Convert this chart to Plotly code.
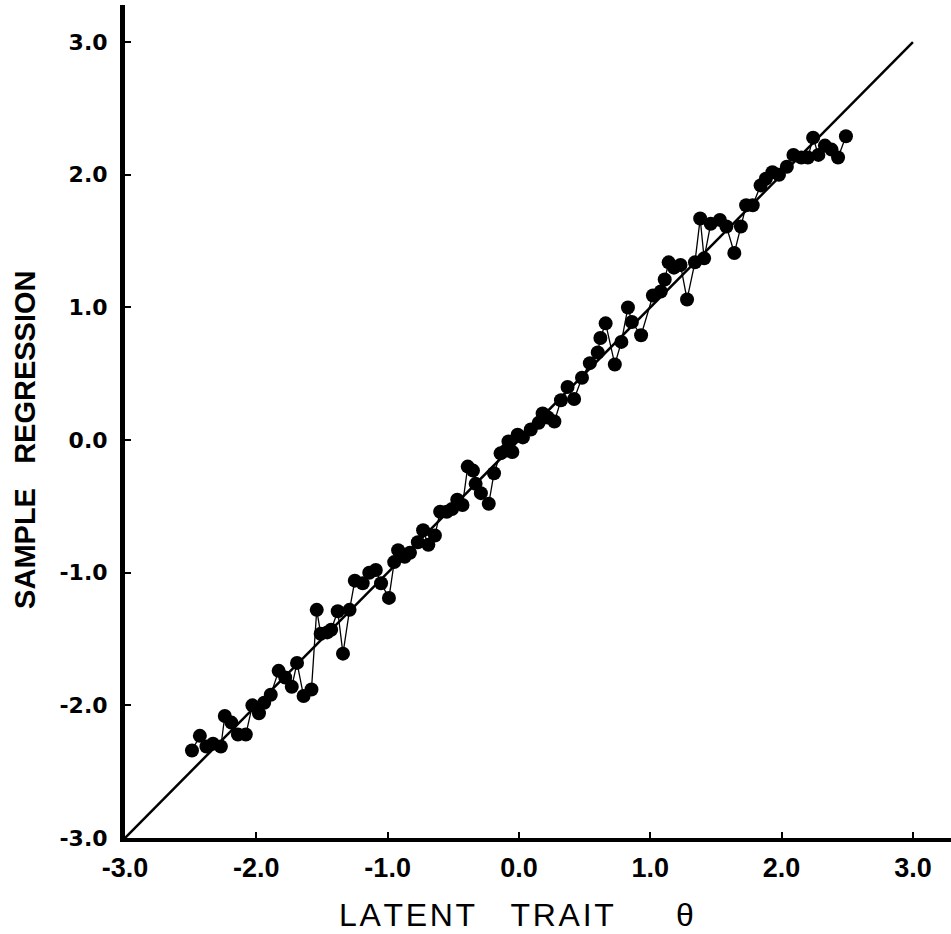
import plotly.graph_objects as go

# sample regression points
theta = [-2.49, -2.43, -2.38, -2.33, -2.27, -2.24, -2.19, -2.14, -2.08, -2.03,
         -1.98, -1.94, -1.89, -1.83, -1.78, -1.73, -1.69, -1.64, -1.58, -1.54,
         -1.51, -1.46, -1.43, -1.38, -1.34, -1.29, -1.25, -1.19, -1.14, -1.09,
         -1.05, -0.99, -0.95, -0.92, -0.87, -0.83, -0.77, -0.73, -0.69, -0.64,
         -0.60, -0.55, -0.51, -0.47, -0.43, -0.39, -0.35, -0.33, -0.29, -0.23,
         -0.19, -0.14, -0.10, -0.08, -0.05, -0.01, 0.03, 0.09, 0.15, 0.18,
         0.22, 0.27, 0.32, 0.37, 0.42, 0.48, 0.54, 0.60, 0.62, 0.66,
         0.73, 0.78, 0.83, 0.86, 0.93, 1.02, 1.08, 1.11, 1.14, 1.18,
         1.23, 1.28, 1.34, 1.38, 1.41, 1.46, 1.53, 1.58, 1.64, 1.69,
         1.73, 1.78, 1.84, 1.88, 1.93, 1.98, 2.04, 2.09, 2.15, 2.20,
         2.24, 2.28, 2.33, 2.38, 2.43, 2.49]
regression = [-2.34, -2.23, -2.31, -2.29, -2.31, -2.08, -2.13, -2.22, -2.22, -2.00,
              -2.06, -1.98, -1.92, -1.74, -1.79, -1.86, -1.68, -1.93, -1.88, -1.28,
              -1.46, -1.45, -1.43, -1.29, -1.61, -1.28, -1.06, -1.08, -1.00, -0.98,
              -1.08, -1.19, -0.92, -0.83, -0.88, -0.85, -0.77, -0.68, -0.79, -0.72,
              -0.54, -0.54, -0.52, -0.45, -0.49, -0.20, -0.23, -0.33, -0.40, -0.48,
              -0.25, -0.10, -0.08, -0.01, -0.09, 0.04, 0.02, 0.08, 0.13, 0.20,
              0.17, 0.14, 0.30, 0.40, 0.31, 0.47, 0.58, 0.66, 0.77, 0.88,
              0.57, 0.74, 1.00, 0.89, 0.79, 1.09, 1.12, 1.21, 1.34, 1.30,
              1.32, 1.06, 1.34, 1.67, 1.37, 1.63, 1.66, 1.61, 1.41, 1.61,
              1.77, 1.77, 1.92, 1.97, 2.02, 2.00, 2.06, 2.15, 2.13, 2.13,
              2.28, 2.15, 2.22, 2.19, 2.13, 2.29]

identity_line = [-3.0, 3.0]
tick_vals = [-3.0, -2.0, -1.0, 0.0, 1.0, 2.0, 3.0]
tick_text = ["-3.0", "-2.0", "-1.0", "0.0", "1.0", "2.0", "3.0"]

narrow_font = "Liberation Sans, Arial, sans-serif"
wide_font = "DejaVu Sans, Verdana, sans-serif"

fig = go.Figure()

fig.add_trace(go.Scatter(
    x=identity_line, y=identity_line,
    mode="lines", line=dict(color="black", width=2.5),
    showlegend=False, hoverinfo="skip"
))

fig.add_trace(go.Scatter(
    x=theta, y=regression,
    mode="lines+markers",
    line=dict(color="black", width=1.3),
    marker=dict(color="black", size=14),
    showlegend=False
))

fig.update_xaxes(
    range=[-3.0, 3.29], tickvals=tick_vals, ticktext=tick_text,
    showgrid=False, zeroline=False, automargin=False,
    showline=True, linecolor="black", linewidth=4,
    ticks="inside", ticklen=6, tickwidth=1.5, tickcolor="black",
    ticklabelstandoff=3,
    tickfont=dict(family=narrow_font, size=27, color="black", weight="bold"),
)
fig.update_yaxes(
    range=[-3.0, 3.28], tickvals=tick_vals, ticktext=tick_text,
    showgrid=False, zeroline=False, automargin=False,
    showline=True, linecolor="black", linewidth=5,
    ticks="inside", ticklen=6, tickwidth=1.5, tickcolor="black",
    ticklabelstandoff=8,
    tickfont=dict(family=wide_font, size=22, color="black", weight="bold"),
)

hs = "\u200a"
nb = "\u00a0"
fig.add_annotation(
    text=hs.join("LATENT") + nb * 4 + hs.join("TRAIT") + nb * 7 + "θ",
    xref="paper", yref="paper", x=0.474, y=-0.092,
    xanchor="center", yanchor="middle", showarrow=False,
    font=dict(family=narrow_font, size=32, color="black"),
)
fig.add_annotation(
    text="SAMPLE" + nb * 3 + "REGRESSION",
    xref="paper", yref="paper", x=-0.121, y=0.478,
    xanchor="center", yanchor="middle", showarrow=False, textangle=-90,
    font=dict(family=narrow_font, size=29, color="black", weight="bold"),
)

fig.update_layout(
    width=951, height=934,
    margin=dict(l=125, r=0, t=5, b=96),
    plot_bgcolor="white", paper_bgcolor="white",
)

# drop the browser's default page margin so the figure sits at the top-left corner
fig.write_html("out.html", config={"displayModeBar": False},
               post_script="document.body.style.margin = '0';")
